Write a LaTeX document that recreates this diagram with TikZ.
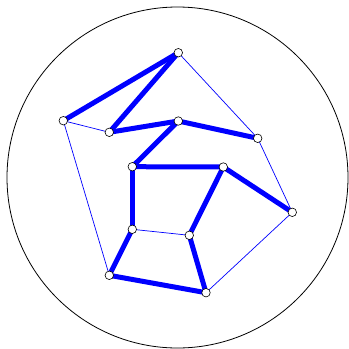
\documentclass[tikz,border=0pt]{standalone}
\usetikzlibrary{backgrounds}
\begin{document}
\begin{tikzpicture}[x=1pt,y=-1pt,
  vtx/.style={circle,draw=black,fill=white,line width=0.6pt,inner sep=0pt,minimum size=8.5pt},
  thickedge/.style={draw=blue,line width=5pt},
  thinedge/.style={draw=blue,line width=0.7pt}]
\useasboundingbox (0,0) rectangle (349,349);
\node[draw=black,line width=0.8pt,circle,minimum size=341pt,inner sep=0pt] (ring) at (177.5,177.5) {};
\node[vtx] (A) at (178.3,52.7) {};
\node[vtx] (B) at (63.3,120.7) {};
\node[vtx] (C) at (109.3,132.3) {};
\node[vtx] (D) at (178.3,121) {};
\node[vtx] (E) at (257.7,138.3) {};
\node[vtx] (F) at (132.3,166.7) {};
\node[vtx] (G) at (223.3,167) {};
\node[vtx] (H) at (292.3,212.3) {};
\node[vtx] (I) at (132.3,229.3) {};
\node[vtx] (J) at (189.3,235.3) {};
\node[vtx] (K) at (109.3,275.3) {};
\node[vtx] (L) at (206,292.7) {};
\begin{scope}[on background layer]
\draw[thinedge] (A.center) -- (E.center);
\draw[thinedge] (B.center) -- (C.center);
\draw[thinedge] (B.center) -- (K.center);
\draw[thinedge] (E.center) -- (H.center);
\draw[thinedge] (H.center) -- (L.center);
\draw[thinedge] (I.center) -- (J.center);
\draw[thickedge] (A.center) -- (B.center);
\draw[thickedge] (A.center) -- (C.center);
\draw[thickedge] (C.center) -- (D.center);
\draw[thickedge] (D.center) -- (E.center);
\draw[thickedge] (D.center) -- (F.center);
\draw[thickedge] (F.center) -- (G.center);
\draw[thickedge] (G.center) -- (H.center);
\draw[thickedge] (F.center) -- (I.center);
\draw[thickedge] (G.center) -- (J.center);
\draw[thickedge] (J.center) -- (L.center);
\draw[thickedge] (K.center) -- (L.center);
\draw[thickedge] (I.center) -- (K.center);
\end{scope}
\end{tikzpicture}
\end{document}
